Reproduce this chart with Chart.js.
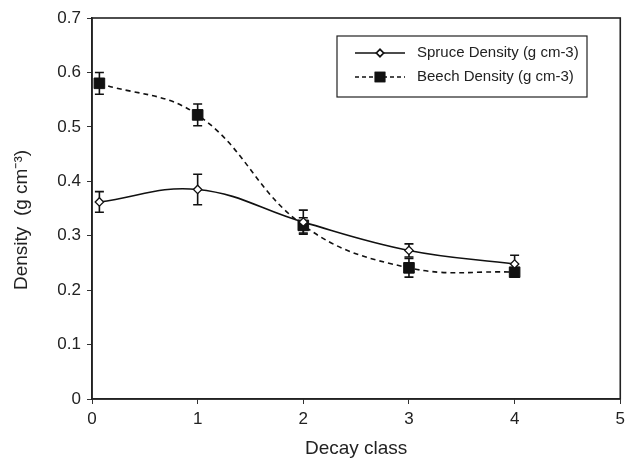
<!DOCTYPE html>
<html>
<head>
<meta charset="utf-8">
<script src="https://cdn.jsdelivr.net/npm/chart.js@4.4.1/dist/chart.umd.min.js"></script>
<style>
  html, body { margin: 0; padding: 0; background: #fff; }
  #wrap { width: 630px; height: 460px; }
</style>
</head>
<body>
<div id="wrap"><canvas id="chart" width="630" height="460"></canvas></div>
<script>
    'use strict';

    // Decay class positions (first class plotted slightly right of 0)
    const decayClass = [0.07, 1, 2, 3, 4];

    const spruceDensity = [0.362, 0.385, 0.325, 0.273, 0.248];
    const spruceError = [0.019, 0.028, 0.022, 0.012, 0.016];

    const beechDensity = [0.58, 0.522, 0.319, 0.241, 0.233];
    const beechError = [0.02, 0.02, 0.014, 0.017, 0.008];

    const xTicks = [0, 1, 2, 3, 4, 5];
    const yTicks = [0, 0.1, 0.2, 0.3, 0.4, 0.5, 0.6, 0.7];

    const yTitle = 'Density  (g cm\u207B\u00B3)';
    const xTitle = 'Decay class';

    const fontFamily = '"Liberation Sans", Arial, sans-serif';

    function toPoints(xs, ys) {
        return xs.map((x, i) => ({ x: x, y: ys[i] }));
    }

    /**
     * Vertical error bars with caps, drawn under the markers
     */
    const errorBars = {
        id: 'errorBars',
        beforeDatasetsDraw(chart) {
            const ctx = chart.ctx;
            const xs = chart.scales.x;
            const ys = chart.scales.y;
            const errs = [spruceError, beechError];

            ctx.save();
            ctx.strokeStyle = '#111';
            ctx.lineWidth = 1.6;
            chart.data.datasets.forEach((ds, di) => {
                ds.data.forEach((p, i) => {
                    const px = xs.getPixelForValue(p.x);
                    const top = ys.getPixelForValue(p.y + errs[di][i]);
                    const bot = ys.getPixelForValue(p.y - errs[di][i]);
                    ctx.beginPath();
                    ctx.moveTo(px, top);
                    ctx.lineTo(px, bot);
                    ctx.moveTo(px - 4.5, top);
                    ctx.lineTo(px + 4.5, top);
                    ctx.moveTo(px - 4.5, bot);
                    ctx.lineTo(px + 4.5, bot);
                    ctx.stroke();
                });
            });
            ctx.restore();
        }
    };

    /**
     * Box around the plot area, the y title and the boxed legend
     */
    const frameAndLegend = {
        id: 'frameAndLegend',
        afterDraw(chart) {
            const ctx = chart.ctx;
            const a = chart.chartArea;

            ctx.save();
            ctx.strokeStyle = '#222';
            ctx.lineWidth = 1.6;
            ctx.strokeRect(a.left, a.top, a.right - a.left, a.bottom - a.top);

            // y axis title, reading upward from just below the middle
            ctx.save();
            ctx.translate(27, 290);
            ctx.rotate(-Math.PI / 2);
            ctx.fillStyle = '#222';
            ctx.font = '19px ' + fontFamily;
            ctx.textAlign = 'left';
            ctx.textBaseline = 'alphabetic';
            ctx.fillText(yTitle, 0, 0);
            ctx.restore();

            // legend box
            const lx = 337, ly = 36, lw = 250, lh = 61;
            ctx.lineWidth = 1.2;
            ctx.fillStyle = '#fff';
            ctx.fillRect(lx, ly, lw, lh);
            ctx.strokeRect(lx, ly, lw, lh);

            const rows = [
                { label: 'Spruce Density (g cm-3)', dash: [], style: 'rectRot', fill: '#fff', r: 3.6, y: ly + 17 },
                { label: 'Beech Density (g cm-3)', dash: [4, 3], style: 'rect', fill: '#111', r: 6.5, y: ly + 41 }
            ];
            rows.forEach(row => {
                ctx.beginPath();
                ctx.setLineDash(row.dash);
                ctx.strokeStyle = '#111';
                ctx.lineWidth = 1.5;
                ctx.moveTo(lx + 18, row.y);
                ctx.lineTo(lx + 68, row.y);
                ctx.stroke();
                ctx.setLineDash([]);
                Chart.helpers.drawPoint(ctx, {
                    pointStyle: row.style, radius: row.r, rotation: 0, borderWidth: 1.3
                }, lx + 43, row.y);
                ctx.fillStyle = row.fill;
                ctx.fill();
                ctx.stroke();

                ctx.fillStyle = '#222';
                ctx.font = '15px ' + fontFamily;
                ctx.textBaseline = 'middle';
                ctx.fillText(row.label, lx + 80, row.y);
            });
            ctx.restore();
        }
    };

    const ctx = document.getElementById('chart').getContext('2d');

    new Chart(ctx, {
        type: 'scatter',
        data: {
            datasets: [
                {
                    label: 'Spruce Density (g cm-3)',
                    data: toPoints(decayClass, spruceDensity),
                    showLine: true,
                    borderColor: '#111',
                    borderWidth: 1.6,
                    tension: 0.4,
                    pointStyle: 'rectRot',
                    pointRadius: 4.2,
                    pointBackgroundColor: '#fff',
                    pointBorderColor: '#111',
                    pointBorderWidth: 1.3
                },
                {
                    label: 'Beech Density (g cm-3)',
                    data: toPoints(decayClass, beechDensity),
                    showLine: true,
                    borderColor: '#111',
                    borderWidth: 1.6,
                    borderDash: [5, 4],
                    tension: 0.4,
                    pointStyle: 'rect',
                    pointRadius: 7.5,
                    pointBackgroundColor: '#111',
                    pointBorderColor: '#111',
                    pointBorderWidth: 1
                }
            ]
        },
        options: {
            responsive: false,
            animation: false,
            layout: {
                padding: { top: 18, right: 8, left: 0, bottom: 0 }
            },
            plugins: {
                legend: { display: false },
                tooltip: { enabled: false }
            },
            scales: {
                x: {
                    type: 'linear',
                    min: 0,
                    max: 5,
                    afterBuildTicks: s => { s.ticks = xTicks.map(v => ({ value: v })); },
                    afterFit: s => { s.height = 61; },
                    grid: {
                        drawOnChartArea: false,
                        drawTicks: true,
                        tickLength: 5,
                        color: '#333'
                    },
                    border: { color: '#222', width: 1.6 },
                    ticks: {
                        color: '#222',
                        padding: 5,
                        maxRotation: 0,
                        font: { family: fontFamily, size: 17 }
                    },
                    title: {
                        display: true,
                        text: xTitle,
                        color: '#222',
                        padding: { top: 2, bottom: 0 },
                        font: { family: fontFamily, size: 19 }
                    }
                },
                y: {
                    min: 0,
                    max: 0.7,
                    afterBuildTicks: s => { s.ticks = yTicks.map(v => ({ value: v })); },
                    afterFit: s => { s.width = 92; },
                    grid: {
                        drawOnChartArea: false,
                        drawTicks: true,
                        tickLength: 5,
                        color: '#333'
                    },
                    border: { color: '#222', width: 1.6 },
                    ticks: {
                        color: '#222',
                        padding: 6,
                        font: { family: fontFamily, size: 17 },
                        callback: v => (v === 0 ? '0' : v.toFixed(1))
                    },
                    title: { display: false }
                }
            }
        },
        plugins: [errorBars, frameAndLegend]
    });
</script>
</body>
</html>
